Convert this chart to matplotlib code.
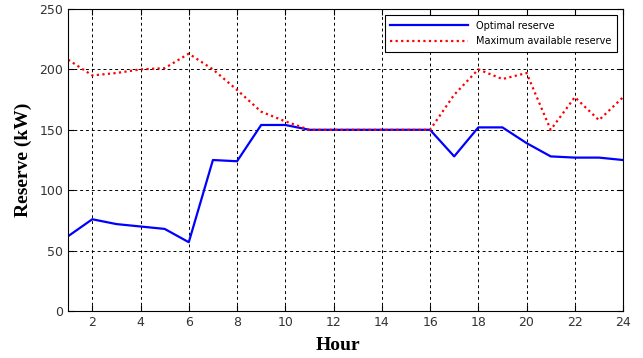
import numpy as np
import matplotlib.pyplot as plt

hours = list(range(1, 25))
optimal_reserve = [62, 76, 72, 70, 68, 57, 125, 124, 154, 154, 150, 150,
                   150, 150, 150, 150, 128, 152, 152, 139, 128, 127, 127, 125]
max_available = [208, 195, 197, 200, 201, 213, 200, 183, 165, 157, 150, 150,
                 150, 150, 150, 150, 179, 200, 192, 197, 150, 177, 158, 177]

fig = plt.figure(figsize=(6.43, 3.58), dpi=100)
ax = fig.add_axes([0.106, 0.131, 0.863, 0.844])

ax.plot(hours, optimal_reserve, color='#0000ff', lw=1.6, label='Optimal reserve')
ax.plot(hours, max_available, color='#ff0000', lw=1.6, linestyle=(0, (1, 1.5)),
        label='Maximum available reserve')

ax.set_xlim(1, 24)
ax.set_ylim(0, 250)
ax.set_xticks(range(2, 25, 2))
ax.set_yticks(range(0, 251, 50))
ax.tick_params(direction='in', top=True, right=True, labelsize=9, length=4,
               labelcolor='#333333')
ax.grid(True, color='black', linestyle=(0, (3, 3)), lw=0.7)

ax.set_xlabel('Hour', fontfamily='Liberation Serif', fontweight='bold', fontsize=14)
ax.xaxis.set_label_coords(0.486, -0.085)
ax.set_ylabel('Reserve (kW)', fontfamily='Liberation Serif', fontweight='bold', fontsize=14, labelpad=5)

leg = ax.legend(loc='upper right', fontsize=7, fancybox=False, framealpha=1,
                edgecolor='black', handlelength=8, borderaxespad=0.6,
                borderpad=0.6, labelspacing=0.6)
leg.get_frame().set_linewidth(0.8)

fig.savefig('out.png', dpi=100)
